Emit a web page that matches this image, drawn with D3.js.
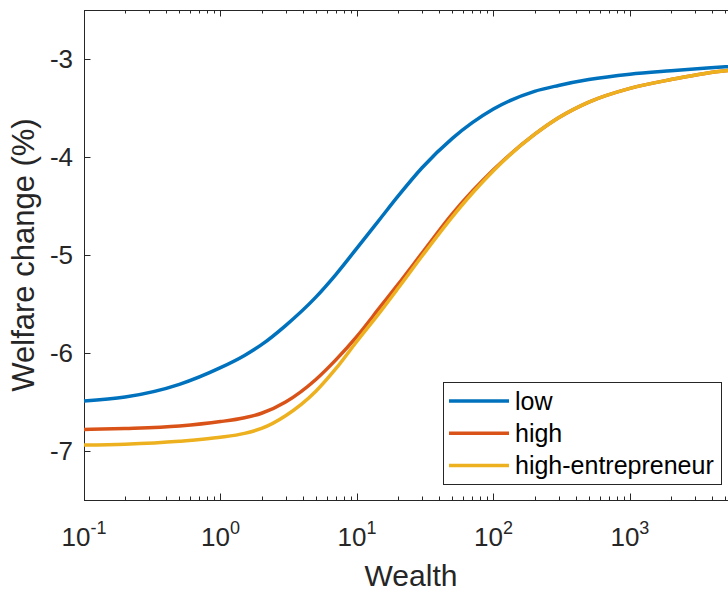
<!DOCTYPE html>
<meta charset="utf-8">
<script src="https://d3js.org/d3.v7.min.js"></script>
<style>
  body { margin: 0; background: #fff; }
  text { font-family: "Liberation Sans", Arial, Helvetica, sans-serif; fill: #262626; }
</style>
<div id="chart"></div>
<script>
  // Data
  var wealth = [0.1, 0.2, 0.5, 1, 1.5, 2, 3, 5, 7, 10, 15, 20, 30, 50, 70, 100, 200, 300, 500, 1000, 2000, 5000, 6300];
  var low = [-6.49, -6.45, -6.32, -6.15, -6.025, -5.915, -5.72, -5.43, -5.20, -4.93, -4.62, -4.40, -4.11, -3.81, -3.65, -3.51, -3.33, -3.27, -3.21, -3.155, -3.12, -3.08, -3.07];
  var high = [-6.78, -6.77, -6.745, -6.70, -6.66, -6.615, -6.50, -6.27, -6.07, -5.83, -5.52, -5.30, -4.98, -4.58, -4.35, -4.13, -3.77, -3.60, -3.44, -3.30, -3.21, -3.12, -3.11];
  var highEntrepreneur = [-6.94, -6.93, -6.90, -6.86, -6.82, -6.77, -6.64, -6.39, -6.16, -5.88, -5.57, -5.34, -5.01, -4.61, -4.37, -4.14, -3.77, -3.60, -3.44, -3.30, -3.21, -3.12, -3.11];
  var seriesNames = ["low", "high", "high-entrepreneur"];
  var seriesColors = ["#0072BD", "#D95319", "#EDB120"];
  var yTicks = [-7, -6, -5, -4, -3];
  var xTicks = [0.1, 1, 10, 100, 1000];
  var xTickExp = ["-1", "0", "1", "2", "3"];

  var W = 728, H = 592;
  var pl = 84, pr = 739, pt = 10, pb = 500;

  var svg = d3.select("#chart").append("svg")
      .attr("width", W).attr("height", H);

  var x = d3.scaleLog().domain([0.1, 6300]).range([pl, pr]);
  var y = d3.scaleLinear().domain([-7.5, -2.5]).range([pb, pt]);

  // minor ticks 2..9 in each decade
  var minor = [];
  for (var d = -1; d <= 3; d++) {
    for (var m = 2; m <= 9; m++) {
      var v = m * Math.pow(10, d);
      if (v < 6300) minor.push(v);
    }
  }

  var ax = svg.append("g").attr("stroke", "#262626").attr("stroke-width", 1).attr("fill", "none");
  // frame (right edge lies outside the picture)
  ax.append("rect").attr("x", pl + 0.5).attr("y", pt + 0.5)
    .attr("width", pr - pl).attr("height", pb - pt);

  // bottom & top ticks
  ax.selectAll(".xmaj").data(xTicks).enter().append("path")
    .attr("d", function (v) { var px = Math.round(x(v)) + 0.5; return "M" + px + "," + pb + "v-6.5M" + px + "," + pt + "v6.5"; });
  ax.selectAll(".xmin").data(minor).enter().append("path")
    .attr("d", function (v) { var px = Math.round(x(v)) + 0.5; return "M" + px + "," + pb + "v-3.5M" + px + "," + pt + "v3.5"; });
  // left ticks
  ax.selectAll(".ymaj").data(yTicks).enter().append("path")
    .attr("d", function (v) { var py = Math.round(y(v)) + 0.5; return "M" + pl + "," + py + "h6.5"; });

  // tick labels
  svg.selectAll(".ylab").data(yTicks).enter().append("text")
    .attr("x", 73).attr("y", function (v) { return y(v); })
    .attr("dy", "0.36em").attr("text-anchor", "end")
    .style("font-size", "26px")
    .text(function (v) { return String(v); });

  var xl = svg.selectAll(".xlab").data(xTicks).enter().append("text")
    .attr("x", function (v) { return x(v); }).attr("y", 546)
    .attr("text-anchor", "middle")
    .style("font-size", "26px");
  xl.append("tspan").text("10");
  xl.append("tspan").attr("dy", -12).style("font-size", "18px")
    .text(function (v, i) { return xTickExp[i]; });

  // axis labels
  svg.append("text").attr("x", 411).attr("y", 586).attr("text-anchor", "middle")
    .style("font-size", "30px").text("Wealth");
  svg.append("text").attr("transform", "translate(34,255) rotate(-90)")
    .attr("text-anchor", "middle").style("font-size", "31px").text("Welfare change (%)");

  // lines
  var line = d3.line().curve(d3.curveMonotoneX)
    .x(function (d) { return x(d[0]); })
    .y(function (d) { return y(d[1]); });
  var allSeries = [low, high, highEntrepreneur];
  var plot = svg.append("g");
  allSeries.forEach(function (s, i) {
    plot.append("path")
      .datum(wealth.map(function (w, j) { return [w, s[j]]; }))
      .attr("fill", "none").attr("stroke", seriesColors[i])
      .attr("stroke-width", 3.5).attr("d", line);
  });

  // legend
  var lg = svg.append("g");
  lg.append("rect").attr("x", 443.5).attr("y", 382.5).attr("width", 278).attr("height", 102)
    .attr("fill", "#fff").attr("stroke", "#262626").attr("stroke-width", 1);
  seriesNames.forEach(function (n, i) {
    var ry = 401 + i * 32.3;
    lg.append("line").attr("x1", 449).attr("x2", 509).attr("y1", ry).attr("y2", ry)
      .attr("stroke", seriesColors[i]).attr("stroke-width", 3.5);
    lg.append("text").attr("x", 515).attr("y", ry).attr("dy", "0.35em")
      .style("font-size", "25px").style("fill", "#000").text(n);
  });
</script>
